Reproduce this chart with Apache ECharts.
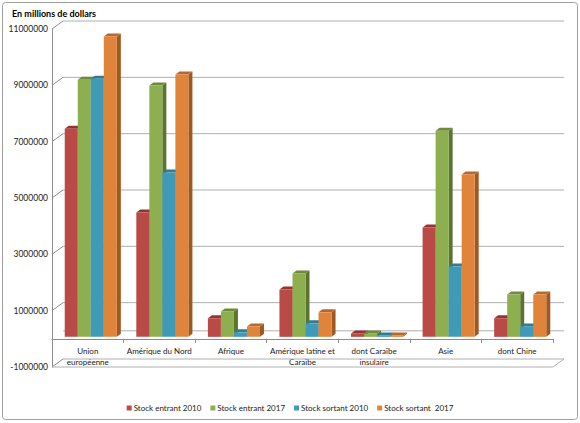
<!DOCTYPE html>
<html>
<head>
<meta charset="utf-8">
<script src="https://cdn.jsdelivr.net/npm/echarts@6/dist/echarts.min.js"></script>
<style>
  html, body { margin: 0; padding: 0; background: #fff; }
  #main { width: 580px; height: 423px; }
</style>
</head>
<body>
<div id="main"></div>
<script>
// categories and values (in millions of dollars)
const categories = ['Union\neuropéenne', 'Amérique du Nord', 'Afrique', 'Amérique latine et\nCaraïbe', 'dont Caraïbe\ninsulaire', 'Asie', 'dont Chine']
const seriesNames = ['Stock entrant 2010', 'Stock entrant 2017', 'Stock sortant 2010', 'Stock sortant  2017']
const entrant2010 = [7390000, 4410000, 660000, 1680000, 120000, 3880000, 660000]
const entrant2017 = [9130000, 8920000, 900000, 2250000, 120000, 7320000, 1500000]
const sortant2010 = [9160000, 5830000, 160000, 480000, 50000, 2500000, 370000]
const sortant2017 = [10660000, 9310000, 370000, 870000, 50000, 5760000, 1500000]
const yTicks = [-1000000, 1000000, 3000000, 5000000, 7000000, 9000000, 11000000]
const backLines = [-1000000, 0, 1000000, 3000000, 5000000, 7000000, 9000000, 11000000]

// face colours: front, top, side
const faces = [
  ['#BA4A47', '#963432', '#7E2A28'],
  ['#8DAF4F', '#6E8A3B', '#5B7430'],
  ['#3E9AB7', '#2F7C94', '#296D84'],
  ['#E0843B', '#B9672A', '#A05822']
]
const DX = 11, DY = 8 // depth of the wall
const BX = 4, BY = 3  // depth of a bar

let myChart = echarts.init(document.getElementById('main'), null, { renderer: 'svg' })

function barItem (k) {
  return function (params, api) {
    let cat = api.value(0)
    let val = api.value(1)
    let top = api.coord([cat, val])
    let base = api.coord([cat, 0])
    let cw = api.size([1, 0])[0]
    let bw = cw * 0.182
    let x0 = top[0] - 2 * bw + k * bw + 3
    let x1 = x0 + bw
    let yt = top[1] - 2
    let yb = base[1] - 2
    let c = faces[k]
    return {
      type: 'group',
      children: [
        { type: 'polygon', shape: { points: [[x1, yt], [x1 + BX, yt - BY], [x1 + BX, yb - BY], [x1, yb]] }, style: { fill: c[2] } },
        { type: 'polygon', shape: { points: [[x0, yt], [x0 + BX, yt - BY], [x1 + BX, yt - BY], [x1, yt]] }, style: { fill: c[1] } },
        { type: 'rect', shape: { x: x0, y: yt, width: bw, height: yb - yt }, style: { fill: c[0] } }
      ]
    }
  }
}

function wallItem (params, api) {
  let cs = params.coordSys
  let p = api.coord([0, api.value(1)])
  let y = p[1]
  let v = api.value(1)
  let children = [
    { type: 'line', shape: { x1: cs.x + DX, y1: y - DY, x2: cs.x + cs.width + DX, y2: y - DY }, style: { stroke: '#AFAFAF', lineWidth: 1 } }
  ]
  if (yTicks.indexOf(v) >= 0) {
    children.push({ type: 'line', shape: { x1: cs.x, y1: y, x2: cs.x + DX, y2: y - DY }, style: { stroke: '#8C8C8C', lineWidth: 1 } })
  }
  if (v === -1000000) {
    // front edge of the floor and its right side
    children.push({ type: 'line', shape: { x1: cs.x, y1: y, x2: cs.x + cs.width, y2: y }, style: { stroke: '#AFAFAF', lineWidth: 1 } })
    children.push({ type: 'line', shape: { x1: cs.x + cs.width, y1: y, x2: cs.x + cs.width + DX, y2: y - DY }, style: { stroke: '#AFAFAF', lineWidth: 1 } })
  }
  return { type: 'group', children: children }
}

const font = 'Lato, "Liberation Sans", sans-serif'
const data = [entrant2010, entrant2017, sortant2010, sortant2017]

let series = [{
  type: 'custom',
  name: 'wall',
  silent: true,
  renderItem: wallItem,
  data: backLines.map(function (v) { return [0, v] }),
  z: 1
}]
data.forEach(function (arr, k) {
  series.push({
    type: 'custom',
    name: seriesNames[k],
    renderItem: barItem(k),
    itemStyle: { color: faces[k][0] },
    data: arr.map(function (v, i) { return [i, v] }),
    z: 2 + k
  })
})

myChart.setOption({
  animation: false,
  textStyle: { fontFamily: font },
  title: {
    text: 'En millions de dollars',
    left: 7,
    top: 4,
    textStyle: { fontSize: 9, fontWeight: 'bold', color: '#000', fontFamily: font }
  },
  graphic: [{
    type: 'rect',
    shape: { x: 2.5, y: 2.5, width: 575, height: 417, r: 3 },
    style: { fill: 'none', stroke: '#A0A0A0', lineWidth: 1 },
    z: 0
  }],
  legend: {
    data: seriesNames,
    bottom: 6,
    left: 'center',
    icon: 'rect',
    itemWidth: 5,
    itemHeight: 5,
    itemGap: 9,
    textStyle: { fontSize: 8, color: '#222', fontFamily: font, padding: [0, 0, 0, -3] }
  },
  grid: { left: 52, right: 27, top: 29, bottom: 56, containLabel: false },
  xAxis: {
    type: 'category',
    data: categories,
    axisLine: { onZero: true, lineStyle: { color: '#8C8C8C' } },
    axisTick: { show: true, length: 4, alignWithLabel: false, lineStyle: { color: '#8C8C8C' } },
    axisLabel: { interval: 0, fontSize: 8, color: '#222', margin: -22, lineHeight: 11, fontFamily: font },
    splitLine: { show: false }
  },
  yAxis: {
    type: 'value',
    min: -1000000,
    max: 11000000,
    interval: 1000000,
    axisLine: { show: true, lineStyle: { color: '#8C8C8C' } },
    axisTick: { show: false },
    splitLine: { show: false },
    axisLabel: {
      fontSize: 8.5,
      color: '#222',
      margin: 4,
      formatter: function (v) {
        return yTicks.indexOf(v) >= 0 ? String(v) : ''
      }
    }
  },
  series: series
})
</script>
</body>
</html>
